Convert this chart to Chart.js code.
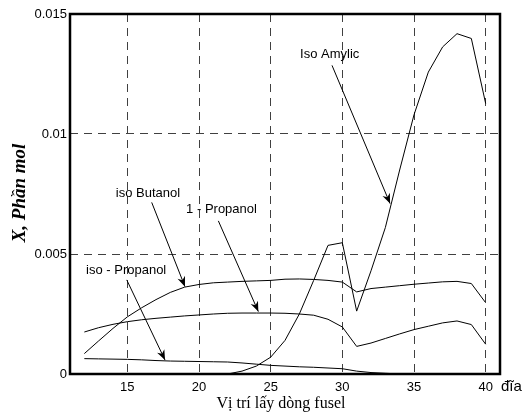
<!DOCTYPE html>
<html><head><meta charset="utf-8">
<script src="https://cdn.jsdelivr.net/npm/chart.js@4.4.1/dist/chart.umd.min.js"></script>
<style>html,body{margin:0;padding:0;background:#fff}#wrap{width:524px;height:416px}</style>
</head><body><div id="wrap"><canvas id="c" width="524" height="416"></canvas></div>
<script>
const plates = [12,13,14,15,16,17,18,19,20,21,22,23,24,25,26,27,28,29,30,31,32,33,34,35,36,37,38,39,40];
const isoAmylic = [0,0,0,0,0,0,0,0,0,0,0,0.00012,0.00033,0.0007,0.0014,0.0025,0.0039,0.00536,0.00547,0.00262,0.0043,0.0061,0.0085,0.0108,0.01258,0.01363,0.01418,0.01398,0.01127];
const isoButanol = [0.00085,0.00138,0.0019,0.00238,0.00276,0.0031,0.0034,0.00362,0.00373,0.0038,0.00383,0.00386,0.00388,0.0039,0.00395,0.00396,0.00394,0.0039,0.00383,0.00342,0.00356,0.00362,0.00368,0.00374,0.00379,0.00384,0.00386,0.00377,0.00297];
const propanol1 = [0.00175,0.00193,0.00207,0.00218,0.00226,0.00232,0.00237,0.00242,0.00246,0.0025,0.00253,0.00254,0.00254,0.00254,0.00253,0.0025,0.00245,0.00228,0.00196,0.00115,0.00129,0.00148,0.00167,0.00185,0.00199,0.00213,0.00221,0.00206,0.00124];
const isoPropanol = [0.00064,0.00063,0.00062,0.00061,0.00059,0.00056,0.00054,0.00053,0.00052,0.00051,0.0005,0.00046,0.00041,0.00036,0.00033,0.0003,0.00028,0.00025,0.00022,0.00012,0.00006,0.00003,0,0,0,0,0,0,0];
const xTicks = [15,20,25,30,35,40];
const yTicks = [0,0.005,0.01,0.015];
const yTickLabels = ['0','0.005','0.01','0.015'];
const xTitle = 'Vị trí lấy dòng fusel';
const yTitle = 'X, Phần mol';
const xUnit = 'đĩa';
const notes = [
  {text:'Iso Amylic', tx:27.05, ty:0.01332, x0:29.28, y0:0.01286, x1:33.33, y1:0.0071},
  {text:'iso Butanol', tx:14.2, ty:0.00754, x0:16.7, y0:0.00715, x1:19.02, y1:0.00364},
  {text:'1 - Propanol', tx:19.1, ty:0.00686, x0:21.35, y0:0.00638, x1:24.14, y1:0.0026},
  {text:'iso - Propanol', tx:12.12, ty:0.00433, x0:14.96, y0:0.00392, x1:17.63, y1:0.00058}
];

const mk = (label, vals) => ({label, data: plates.map((p,i)=>({x:p,y:vals[i]})), borderColor:'#000', borderWidth:1, pointRadius:0, tension:0, fill:false});

function arrow(ctx, ax, ay, bx, by){
  ctx.beginPath(); ctx.moveTo(ax,ay); ctx.lineTo(bx,by); ctx.stroke();
  const ang = Math.atan2(by-ay, bx-ax), L=10, W=4;
  const c=Math.cos(ang), s=Math.sin(ang);
  const px=-s, py=c;
  ctx.beginPath();
  ctx.moveTo(bx,by);
  ctx.lineTo(bx-L*c+W*px, by-L*s+W*py);
  ctx.lineTo(bx-0.7*L*c, by-0.7*L*s);
  ctx.lineTo(bx-L*c-W*px, by-L*s-W*py);
  ctx.closePath(); ctx.fill();
}

const decor = {
  id:'decor',
  afterDatasetsDraw(chart){
    const {ctx, chartArea:a, scales:{x,y}} = chart;
    ctx.save();
    ctx.strokeStyle='#000'; ctx.fillStyle='#000';
    ctx.lineWidth=2.5;
    ctx.strokeRect(a.left, a.top, a.right-a.left, a.bottom-a.top);
    ctx.lineWidth=1;
    ctx.font='13px "Liberation Sans", Arial, sans-serif';
    ctx.textBaseline='middle'; ctx.textAlign='left';
    notes.forEach(n=>{
      ctx.fillText(n.text, x.getPixelForValue(n.tx), y.getPixelForValue(n.ty));
      arrow(ctx, x.getPixelForValue(n.x0), y.getPixelForValue(n.y0), x.getPixelForValue(n.x1), y.getPixelForValue(n.y1));
    });
    ctx.font='15px "Liberation Sans", Arial, sans-serif';
    ctx.fillText(xUnit, a.right+1, a.bottom+13);
    ctx.font='16px "Liberation Serif", "Times New Roman", serif';
    ctx.textAlign='center';
    ctx.fillText(xTitle, (a.left+a.right)/2 - 4, a.bottom+30);
    ctx.font='italic bold 19px "Liberation Serif", "Times New Roman", serif';
    ctx.translate(20, (a.top+a.bottom)/2 - 1);
    ctx.rotate(-Math.PI/2);
    ctx.fillText(yTitle, 0, 0);
    ctx.restore();
  }
};

new Chart(document.getElementById('c'), {
  type:'line',
  data:{datasets:[mk('Iso Amylic',isoAmylic), mk('iso Butanol',isoButanol), mk('1 - Propanol',propanol1), mk('iso - Propanol',isoPropanol)]},
  options:{
    responsive:false, animation:false,
    layout:{padding:{left:0,right:24,top:14,bottom:0}},
    plugins:{legend:{display:false}, tooltip:{enabled:false}},
    scales:{
      x:{type:'linear', min:11, max:41,
        afterBuildTicks:s=>{s.ticks = xTicks.map(v=>({value:v}));},
        afterFit:s=>{s.height=42;},
        grid:{color:'#404040', lineWidth:1, drawTicks:false},
        border:{display:false, dash:[8,6]},
        ticks:{padding:6, color:'#000', font:{family:'"Liberation Sans", Arial, sans-serif', size:13}, maxRotation:0, autoSkip:false}
      },
      y:{type:'linear', min:0, max:0.015,
        afterBuildTicks:s=>{s.ticks = yTicks.map(v=>({value:v}));},
        afterFit:s=>{s.width=70;},
        grid:{color:'#404040', lineWidth:1, drawTicks:false},
        border:{display:false, dash:[8,6]},
        ticks:{padding:3, color:'#000', font:{family:'"Liberation Sans", Arial, sans-serif', size:13}, callback:(v)=>yTickLabels[yTicks.indexOf(v)] ?? ''}
      }
    }
  },
  plugins:[decor]
});
</script></body></html>
